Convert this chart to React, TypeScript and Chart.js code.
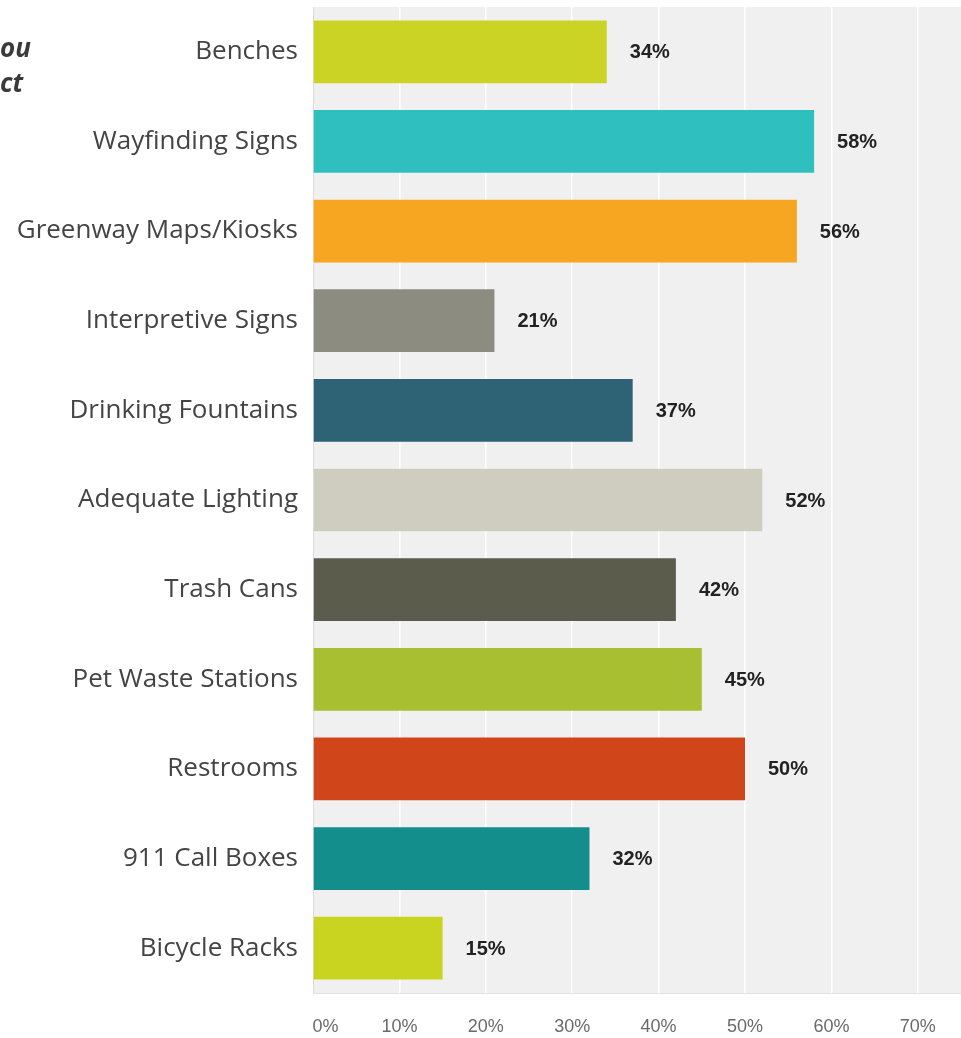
import React, { useEffect, useRef } from "react";
import { Chart, registerables } from "chart.js";

Chart.register(...registerables);

const categories = [
  "Benches",
  "Wayfinding Signs",
  "Greenway Maps/Kiosks",
  "Interpretive Signs",
  "Drinking Fountains",
  "Adequate Lighting",
  "Trash Cans",
  "Pet Waste Stations",
  "Restrooms",
  "911 Call Boxes",
  "Bicycle Racks",
];

const values = [34, 58, 56, 21, 37, 52, 42, 45, 50, 32, 15];

const barColors = [
  "#cbd325",
  "#30bfbf",
  "#f6a620",
  "#8c8c80",
  "#2e6275",
  "#cfcdbf",
  "#5b5c4c",
  "#a9bf32",
  "#d0461a",
  "#148e8c",
  "#c8d41f",
];

const tickValues = [0, 10, 20, 30, 40, 50, 60, 70];

const titleLines = ["ou", "ct"];

const panelPlugin = {
  id: "panel",
  beforeDraw(chart: any) {
    const { ctx, chartArea } = chart;
    ctx.save();
    ctx.fillStyle = "#f0f0f0";
    ctx.fillRect(chartArea.left, chartArea.top, chartArea.right - chartArea.left, chartArea.bottom - chartArea.top);
    ctx.strokeStyle = "#dcdcdc";
    ctx.lineWidth = 1;
    ctx.beginPath();
    ctx.moveTo(chartArea.left + 0.5, chartArea.top);
    ctx.lineTo(chartArea.left + 0.5, chartArea.bottom);
    ctx.stroke();
    ctx.strokeStyle = "#e2e2e2";
    ctx.beginPath();
    ctx.moveTo(chartArea.left, chartArea.bottom + 0.5);
    ctx.lineTo(chartArea.right, chartArea.bottom + 0.5);
    ctx.stroke();
    ctx.restore();
  },
};

const valueLabelPlugin = {
  id: "valueLabels",
  afterDatasetsDraw(chart: any) {
    const { ctx } = chart;
    const meta = chart.getDatasetMeta(0);
    ctx.save();
    ctx.font = "bold 20px 'Liberation Sans', Arial, sans-serif";
    ctx.fillStyle = "#222222";
    ctx.textAlign = "left";
    ctx.textBaseline = "middle";
    meta.data.forEach((el: any, i: number) => {
      ctx.fillText(values[i] + "%", el.x + 23, el.y + 1);
    });
    ctx.restore();
  },
};

export default function App() {
  const canvasRef = useRef<HTMLCanvasElement | null>(null);

  useEffect(() => {
    if (!canvasRef.current) return;
    const chart = new Chart(canvasRef.current, {
      type: "bar",
      data: {
        labels: categories,
        datasets: [
          {
            data: values,
            backgroundColor: barColors,
            borderWidth: 0,
            barPercentage: 0.7,
            categoryPercentage: 1.0,
          },
        ],
      },
      options: {
        indexAxis: "y",
        responsive: false,
        animation: false,
        layout: { padding: { top: 7, left: 0, right: 0, bottom: 0 } },
        plugins: {
          legend: { display: false },
          tooltip: { enabled: false },
        },
        scales: {
          y: {
            position: "left",
            grid: { display: false },
            border: { display: false },
            ticks: {
              color: "#444444",
              padding: 7,
              font: { family: "'Open Sans', sans-serif", size: 26 },
            },
            afterFit: (s: any) => {
              s.width = 313;
              s.paddingTop = 0;
              s.paddingBottom = 0;
            },
          },
          x: {
            type: "linear",
            position: "bottom",
            min: 0,
            max: 75,
            grid: {
              color: (c: any) => (c.tick && c.tick.value === 0 ? "rgba(0,0,0,0)" : "#ffffff"),
              lineWidth: 1.5,
              drawTicks: false,
            },
            border: { display: false },
            afterBuildTicks: (s: any) => {
              s.ticks = tickValues.map((v) => ({ value: v }));
            },
            ticks: {
              color: "#6a6a6a",
              padding: 23,
              maxRotation: 0,
              autoSkip: false,
              font: { family: "'Liberation Sans', Arial, sans-serif", size: 18 },
              callback: (v: any) => (v === 0 ? "     0%" : v + "%"),
            },
            afterFit: (s: any) => {
              s.height = 45;
              s.paddingLeft = 0;
              s.paddingRight = 0;
            },
          },
        },
      },
      plugins: [panelPlugin, valueLabelPlugin],
    });
    return () => chart.destroy();
  }, []);

  return (
    <div style={{ position: "absolute", left: 0, top: 0, width: 961, height: 1038, background: "#ffffff", overflow: "hidden" }}>
      <canvas ref={canvasRef} width={961} height={1038} style={{ display: "block" }} />
      <div
        style={{
          position: "absolute",
          left: 0,
          top: 30,
          fontFamily: "'Open Sans', sans-serif",
          fontWeight: 700,
          fontStyle: "italic",
          fontSize: 26,
          lineHeight: "35px",
          color: "#3a3a3a",
        }}
      >
        {titleLines.map((t) => (
          <div key={t}>{t}</div>
        ))}
      </div>
    </div>
  );
}
